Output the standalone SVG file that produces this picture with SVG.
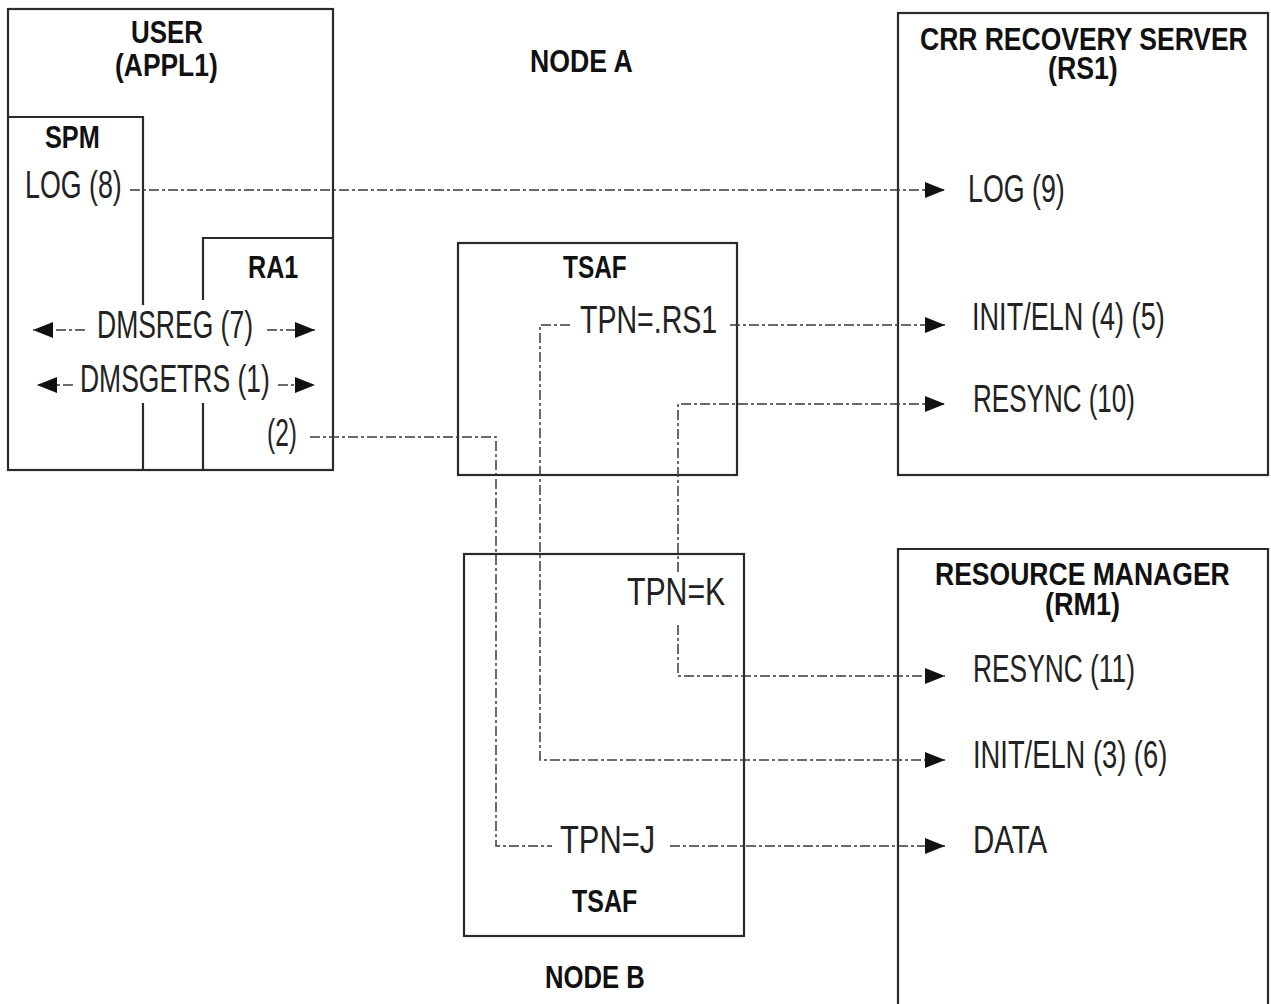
<svg xmlns="http://www.w3.org/2000/svg" width="1271" height="1004" viewBox="0 0 1271 1004">
<style>
.box{fill:none;stroke:#2a2a2a;stroke-width:2.2}
.ln{fill:none;stroke:#3a3a3a;stroke-width:1.5;stroke-dasharray:10 3 3 3}
.b{font-family:"Liberation Sans",Arial,sans-serif;font-weight:bold;font-size:32px;fill:#111}
.r{font-family:"Liberation Sans",Arial,sans-serif;font-size:38px;fill:#222}
</style>
<defs>
<marker id="ah" markerUnits="userSpaceOnUse" markerWidth="22" markerHeight="18" refX="20" refY="8" orient="auto-start-reverse" viewBox="0 0 22 18">
<path d="M0,0 L20,8 L0,16 z" fill="#111"/>
</marker>
</defs>
<rect width="1271" height="1004" fill="#fff"/>

<g id="user">
<rect class="box" x="8" y="9" width="325" height="461"/>
<text class="b" transform="matrix(.75 0 0 1 131 43)" textLength="96" lengthAdjust="spacingAndGlyphs">USER</text>
<text class="b" transform="matrix(.75 0 0 1 115 76)" textLength="137" lengthAdjust="spacingAndGlyphs">(APPL1)</text>
</g>
<g id="spm">
<path class="box" d="M8 117 H143 V305 M143 403 V470"/>
<text class="b" transform="matrix(.75 0 0 1 45 148)" textLength="73" lengthAdjust="spacingAndGlyphs">SPM</text>
<text class="r" transform="matrix(.75 0 0 1 25 198)" textLength="129" lengthAdjust="spacingAndGlyphs">LOG (8)</text>
</g>
<g id="ra1">
<path class="box" d="M333 238 H203 V300 M203 403 V470"/>
<text class="b" transform="matrix(.75 0 0 1 248 278)" textLength="67" lengthAdjust="spacingAndGlyphs">RA1</text>
<text class="r" transform="matrix(.75 0 0 1 97 338)" textLength="208" lengthAdjust="spacingAndGlyphs">DMSREG (7)</text>
<text class="r" transform="matrix(.75 0 0 1 80 392)" textLength="253" lengthAdjust="spacingAndGlyphs">DMSGETRS (1)</text>
<text class="r" transform="matrix(.75 0 0 1 267 446)" textLength="40" lengthAdjust="spacingAndGlyphs">(2)</text>
</g>
<g id="nodeA">
<text class="b" transform="matrix(.75 0 0 1 530 72)" textLength="137" lengthAdjust="spacingAndGlyphs">NODE A</text>
</g>
<g id="tsafA">
<rect class="box" x="458" y="243" width="279" height="232"/>
<text class="b" transform="matrix(.75 0 0 1 563 278)" textLength="85" lengthAdjust="spacingAndGlyphs">TSAF</text>
<text class="r" transform="matrix(.75 0 0 1 580 333)" textLength="183" lengthAdjust="spacingAndGlyphs">TPN=.RS1</text>
</g>
<g id="crr">
<rect class="box" x="898" y="13" width="370" height="462"/>
<text class="b" transform="matrix(.75 0 0 1 920 50)" textLength="437" lengthAdjust="spacingAndGlyphs">CRR RECOVERY SERVER</text>
<text class="b" transform="matrix(.75 0 0 1 1048 79)" textLength="93" lengthAdjust="spacingAndGlyphs">(RS1)</text>
<text class="r" transform="matrix(.75 0 0 1 968 202)" textLength="129" lengthAdjust="spacingAndGlyphs">LOG (9)</text>
<text class="r" transform="matrix(.75 0 0 1 972 330)" textLength="257" lengthAdjust="spacingAndGlyphs">INIT/ELN (4) (5)</text>
<text class="r" transform="matrix(.75 0 0 1 973 412)" textLength="216" lengthAdjust="spacingAndGlyphs">RESYNC (10)</text>
</g>
<g id="tsafB">
<rect class="box" x="464" y="554" width="280" height="382"/>
<text class="r" transform="matrix(.75 0 0 1 627 605)" textLength="131" lengthAdjust="spacingAndGlyphs">TPN=K</text>
<text class="r" transform="matrix(.75 0 0 1 560 853)" textLength="127" lengthAdjust="spacingAndGlyphs">TPN=J</text>
<text class="b" transform="matrix(.75 0 0 1 572 912)" textLength="87" lengthAdjust="spacingAndGlyphs">TSAF</text>
</g>
<g id="nodeB">
<text class="b" transform="matrix(.75 0 0 1 545 988)" textLength="133" lengthAdjust="spacingAndGlyphs">NODE B</text>
</g>
<g id="rm">
<path class="box" d="M898 1010 V549 H1268 V1010"/>
<text class="b" transform="matrix(.75 0 0 1 935 585)" textLength="393" lengthAdjust="spacingAndGlyphs">RESOURCE MANAGER</text>
<text class="b" transform="matrix(.75 0 0 1 1045 615)" textLength="100" lengthAdjust="spacingAndGlyphs">(RM1)</text>
<text class="r" transform="matrix(.75 0 0 1 973 682)" textLength="216" lengthAdjust="spacingAndGlyphs">RESYNC (11)</text>
<text class="r" transform="matrix(.75 0 0 1 973 768)" textLength="259" lengthAdjust="spacingAndGlyphs">INIT/ELN (3) (6)</text>
<text class="r" transform="matrix(.75 0 0 1 973 853)" textLength="99" lengthAdjust="spacingAndGlyphs">DATA</text>
</g>

<g id="connectors">
<path class="ln" d="M130 190 H945" marker-end="url(#ah)"/>
<path class="ln" d="M310 437 H496 V846 H552"/>
<path class="ln" d="M670 846 H945" marker-end="url(#ah)"/>
<path class="ln" d="M570 325 H540 V760 H945" marker-end="url(#ah)"/>
<path class="ln" d="M730 325 H945" marker-end="url(#ah)"/>
<path class="ln" d="M678 572 V404 H945" marker-end="url(#ah)"/>
<path class="ln" d="M678 625 V676 H945" marker-end="url(#ah)"/>
<path class="ln" d="M85 330 H33" marker-end="url(#ah)"/>
<path class="ln" d="M267 330 H315" marker-end="url(#ah)"/>
<path class="ln" d="M73 385 H37" marker-end="url(#ah)"/>
<path class="ln" d="M278 385 H315" marker-end="url(#ah)"/>
</g>
</svg>
